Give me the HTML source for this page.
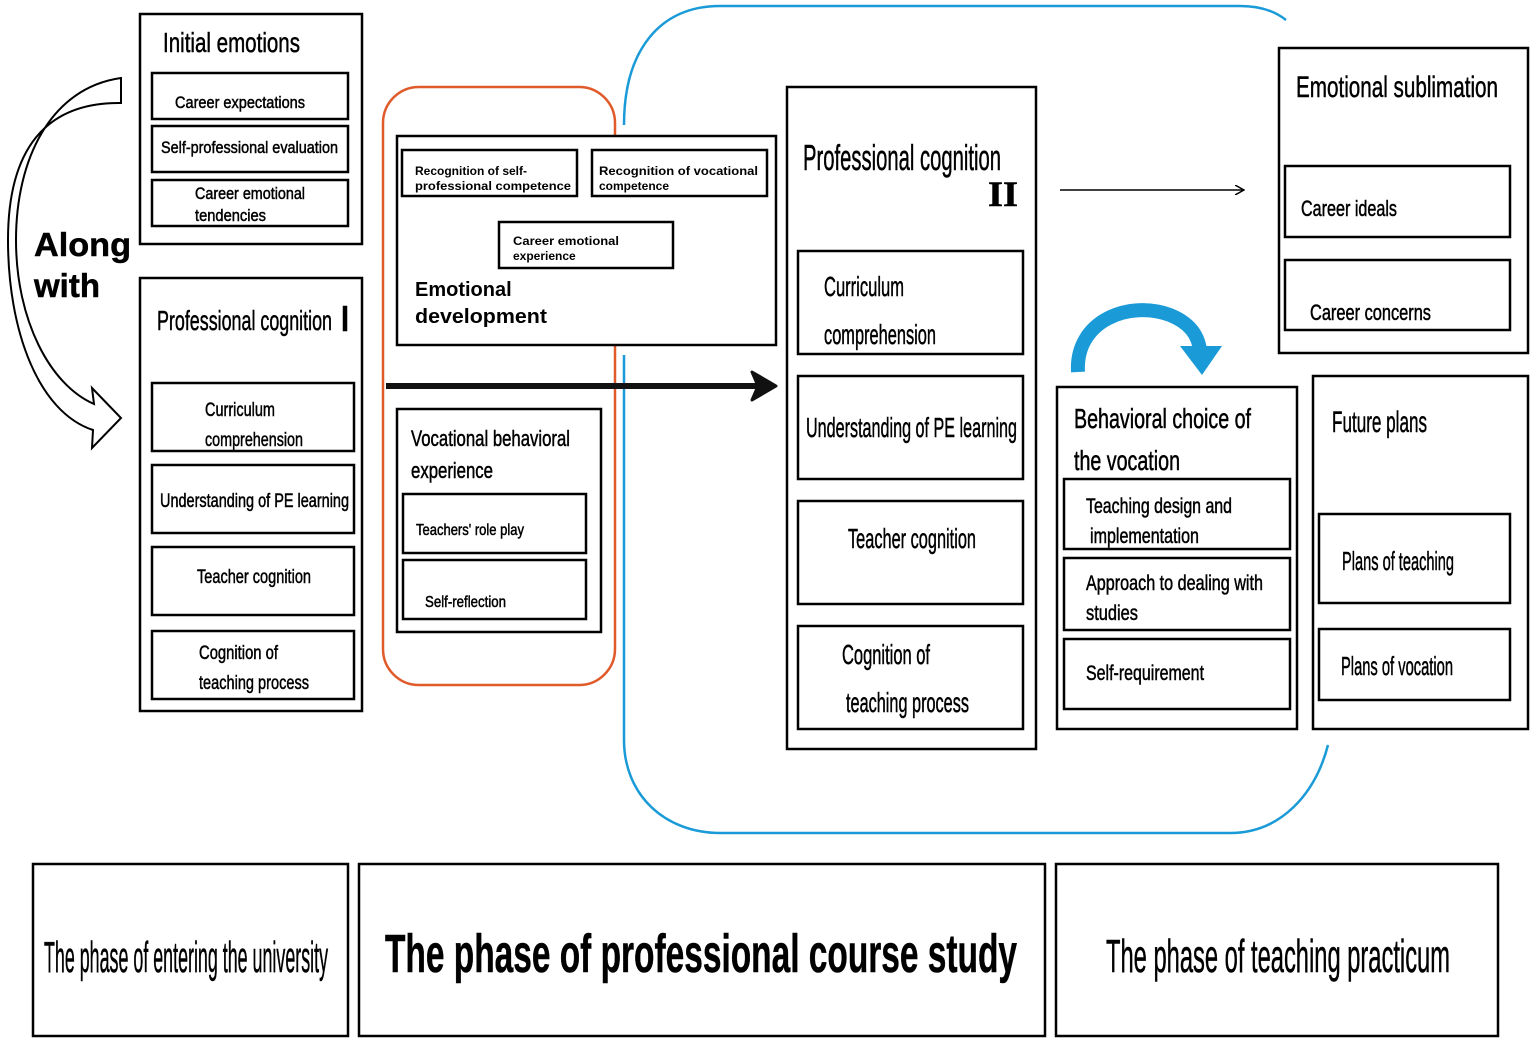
<!DOCTYPE html>
<html><head><meta charset="utf-8"><style>html,body{margin:0;padding:0;background:#fff}svg{display:block}</style></head>
<body>
<svg width="1535" height="1044" viewBox="0 0 1535 1044" xmlns="http://www.w3.org/2000/svg" font-family="Liberation Sans, sans-serif">
<defs>
<marker id="ah" markerWidth="10" markerHeight="10" refX="8" refY="5" orient="auto" markerUnits="userSpaceOnUse"><path d="M0,0 L9,5 L0,10" fill="none" stroke="#000" stroke-width="1.5"/></marker>
</defs>
<rect width="1535" height="1044" fill="#fff"/>
<!-- orange -->
<rect x="383" y="87" width="232" height="598" rx="36" fill="none" stroke="#e05a2a" stroke-width="2.5"/>
<!-- blue -->
<path d="M624,125 C624,50 660,6 720,6 L1240,6 C1262,6 1276,12 1286,20" fill="none" stroke="#1a9bd7" stroke-width="2.5"/>
<path d="M624,355 L624,740 C624,795 665,833 720,833 L1230,833 C1280,833 1315,795 1328,745" fill="none" stroke="#1a9bd7" stroke-width="2.5"/>
<g fill="#fff" stroke="#000" stroke-width="2.5">
<rect x="140" y="14" width="222" height="230"/>
<rect x="152" y="73" width="196" height="46"/>
<rect x="152" y="126" width="196" height="46"/>
<rect x="152" y="180" width="196" height="46"/>
<rect x="140" y="278" width="222" height="433"/>
<rect x="152" y="383" width="202" height="68"/>
<rect x="152" y="465" width="202" height="68"/>
<rect x="152" y="547" width="202" height="68"/>
<rect x="152" y="631" width="202" height="68"/>
<rect x="397" y="136" width="379" height="209"/>
<rect x="402" y="150" width="175" height="46"/>
<rect x="592" y="150" width="175" height="46"/>
<rect x="499" y="222" width="174" height="46"/>
<rect x="397" y="409" width="204" height="223"/>
<rect x="403" y="494" width="183" height="59"/>
<rect x="403" y="560" width="183" height="59"/>
<rect x="787" y="87" width="249" height="662"/>
<rect x="798" y="251" width="225" height="103"/>
<rect x="798" y="376" width="225" height="103"/>
<rect x="798" y="501" width="225" height="103"/>
<rect x="798" y="626" width="225" height="103"/>
<rect x="1279" y="48" width="249" height="305"/>
<rect x="1285" y="166" width="225" height="71"/>
<rect x="1285" y="260" width="225" height="70"/>
<rect x="1057" y="387" width="240" height="342"/>
<rect x="1064" y="479" width="226" height="70"/>
<rect x="1064" y="558" width="226" height="72"/>
<rect x="1064" y="639" width="226" height="70"/>
<rect x="1313" y="376" width="215" height="353"/>
<rect x="1319" y="514" width="191" height="89"/>
<rect x="1319" y="629" width="191" height="71"/>
<rect x="33" y="864" width="315" height="172"/>
<rect x="359" y="864" width="686" height="172"/>
<rect x="1056" y="864" width="442" height="172"/>
</g>
<!-- thick arrow -->
<line x1="386" y1="386" x2="760" y2="386" stroke="#111" stroke-width="6"/>
<path d="M752,372 L776,386 L752,400 L758,386 Z" fill="#111" stroke="#111" stroke-width="3" stroke-linejoin="round"/>
<!-- thin arrow -->
<line x1="1060" y1="190" x2="1243" y2="190" stroke="#000" stroke-width="1.5" marker-end="url(#ah)"/>
<!-- blue curved arrow -->
<path d="M1078,372 C1075,320 1130,300 1170,315 C1190,323 1198,335 1200,350" fill="none" stroke="#1a9bd7" stroke-width="14"/>
<path d="M1180,346 L1222,346 L1202,375 Z" fill="#1a9bd7"/>
<!-- left outline arrow -->
<path d="M121,78 C50,88 16,160 16,240 C16,320 50,385 94,404 L92,388 L121,418 L92,448 L93,430 C38,412 8,330 8,240 C8,150 45,102 121,103 Z" fill="#fff" stroke="#000" stroke-width="2"/>
<g fill="#000" stroke="#000" stroke-width="0.5" font-family="Liberation Sans, sans-serif">
<text x="34" y="256" font-size="33" font-weight="bold" textLength="97" lengthAdjust="spacingAndGlyphs">Along</text>
<text x="34" y="297" font-size="33" font-weight="bold">with</text>
<text x="163" y="52" font-size="28" textLength="137" lengthAdjust="spacingAndGlyphs">Initial emotions</text>
<text x="175" y="108" font-size="17" textLength="130" lengthAdjust="spacingAndGlyphs">Career expectations</text>
<text x="161" y="153" font-size="17" textLength="177" lengthAdjust="spacingAndGlyphs">Self-professional evaluation</text>
<text x="195" y="199" font-size="17" textLength="110" lengthAdjust="spacingAndGlyphs">Career emotional</text>
<text x="195" y="221" font-size="17" textLength="71" lengthAdjust="spacingAndGlyphs">tendencies</text>
<text x="157" y="330" font-size="28" textLength="175" lengthAdjust="spacingAndGlyphs">Professional cognition</text>
<rect x="343" y="306" width="4" height="25"/>
<text x="205" y="416" font-size="19" textLength="70" lengthAdjust="spacingAndGlyphs">Curriculum</text>
<text x="205" y="446" font-size="19" textLength="98" lengthAdjust="spacingAndGlyphs">comprehension</text>
<text x="160" y="507" font-size="19" textLength="189" lengthAdjust="spacingAndGlyphs">Understanding of PE learning</text>
<text x="197" y="583" font-size="19" textLength="114" lengthAdjust="spacingAndGlyphs">Teacher cognition</text>
<text x="199" y="659" font-size="19" textLength="79" lengthAdjust="spacingAndGlyphs">Cognition of</text>
<text x="199" y="689" font-size="19" textLength="110" lengthAdjust="spacingAndGlyphs">teaching process</text>
<g stroke-width="0">
<text x="415" y="175" font-size="12" font-weight="bold">Recognition of self-</text>
<text x="415" y="190" font-size="12" font-weight="bold" textLength="156" lengthAdjust="spacingAndGlyphs">professional competence</text>
<text x="599" y="175" font-size="12" font-weight="bold" textLength="159" lengthAdjust="spacingAndGlyphs">Recognition of vocational</text>
<text x="599" y="190" font-size="12" font-weight="bold">competence</text>
<text x="513" y="245" font-size="12" font-weight="bold" textLength="106" lengthAdjust="spacingAndGlyphs">Career emotional</text>
<text x="513" y="260" font-size="12" font-weight="bold">experience</text>
<text x="415" y="296" font-size="20" font-weight="bold">Emotional</text>
<text x="415" y="323" font-size="20" font-weight="bold" textLength="132" lengthAdjust="spacingAndGlyphs">development</text>
</g>
<text x="411" y="446" font-size="22" textLength="159" lengthAdjust="spacingAndGlyphs">Vocational behavioral</text>
<text x="411" y="478" font-size="22" textLength="82" lengthAdjust="spacingAndGlyphs">experience</text>
<text x="416" y="535" font-size="16" textLength="108" lengthAdjust="spacingAndGlyphs">Teachers' role play</text>
<text x="425" y="607" font-size="16" textLength="81" lengthAdjust="spacingAndGlyphs">Self-reflection</text>
<text x="803" y="170" font-size="36" textLength="198" lengthAdjust="spacingAndGlyphs">Professional cognition</text>
<text x="988" y="206" font-size="36" font-family="Liberation Serif, serif" font-weight="bold" textLength="30" lengthAdjust="spacingAndGlyphs">II</text>
<text x="824" y="296" font-size="28" textLength="80" lengthAdjust="spacingAndGlyphs">Curriculum</text>
<text x="824" y="344" font-size="28" textLength="112" lengthAdjust="spacingAndGlyphs">comprehension</text>
<text x="806" y="437" font-size="28" textLength="211" lengthAdjust="spacingAndGlyphs">Understanding of PE learning</text>
<text x="848" y="548" font-size="28" textLength="128" lengthAdjust="spacingAndGlyphs">Teacher cognition</text>
<text x="842" y="664" font-size="28" textLength="88" lengthAdjust="spacingAndGlyphs">Cognition of</text>
<text x="846" y="712" font-size="28" textLength="123" lengthAdjust="spacingAndGlyphs">teaching process</text>
<text x="1296" y="97" font-size="30" textLength="202" lengthAdjust="spacingAndGlyphs">Emotional sublimation</text>
<text x="1301" y="216" font-size="22" textLength="96" lengthAdjust="spacingAndGlyphs">Career ideals</text>
<text x="1310" y="320" font-size="22" textLength="121" lengthAdjust="spacingAndGlyphs">Career concerns</text>
<text x="1074" y="428" font-size="28" textLength="177" lengthAdjust="spacingAndGlyphs">Behavioral choice of</text>
<text x="1074" y="470" font-size="28" textLength="106" lengthAdjust="spacingAndGlyphs">the vocation</text>
<text x="1086" y="513" font-size="21" textLength="146" lengthAdjust="spacingAndGlyphs">Teaching design and</text>
<text x="1090" y="543" font-size="21" textLength="109" lengthAdjust="spacingAndGlyphs">implementation</text>
<text x="1086" y="590" font-size="21" textLength="177" lengthAdjust="spacingAndGlyphs">Approach to dealing with</text>
<text x="1086" y="620" font-size="21" textLength="52" lengthAdjust="spacingAndGlyphs">studies</text>
<text x="1086" y="680" font-size="21" textLength="118" lengthAdjust="spacingAndGlyphs">Self-requirement</text>
<text x="1332" y="432" font-size="30" textLength="95" lengthAdjust="spacingAndGlyphs">Future plans</text>
<text x="1342" y="570" font-size="26" textLength="112" lengthAdjust="spacingAndGlyphs">Plans of teaching</text>
<text x="1341" y="675" font-size="26" textLength="112" lengthAdjust="spacingAndGlyphs">Plans of vocation</text>
<text x="44" y="972" font-size="44" textLength="284" lengthAdjust="spacingAndGlyphs">The phase of entering the university</text>
<text x="385" y="972" font-size="54" font-weight="bold" textLength="632" lengthAdjust="spacingAndGlyphs">The phase of professional course study</text>
<text x="1106" y="972" font-size="46" textLength="344" lengthAdjust="spacingAndGlyphs">The phase of teaching practicum</text>
</g>
</svg>
</body></html>
